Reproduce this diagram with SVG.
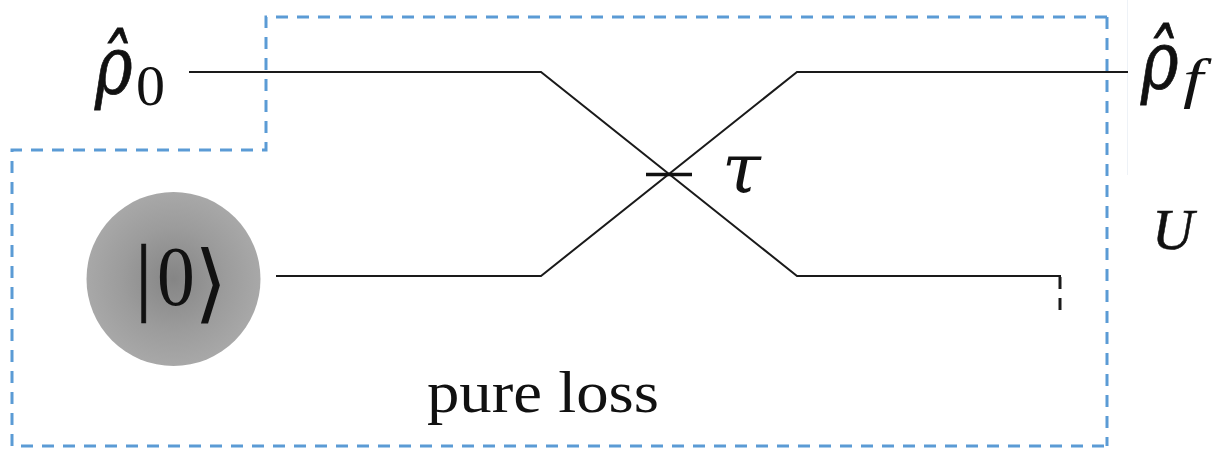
<svg xmlns="http://www.w3.org/2000/svg" width="1213" height="450" viewBox="0 0 1213 450">
<style>
text{font-family:"Liberation Serif","DejaVu Serif",serif;fill:#111}
.i{font-style:italic}
.r{font-family:"DejaVu Serif",serif;font-style:italic;stroke:#111;stroke-width:.8}
.w{fill:none;stroke:#1a1a1a;stroke-width:2}
.h{stroke:#111;stroke-width:.5}
</style>
<defs><radialGradient id="g"><stop offset="0" stop-color="#858585"/><stop offset="0.6" stop-color="#9c9c9c"/><stop offset="1" stop-color="#a8a8a8"/></radialGradient></defs>
<rect width="1213" height="450" fill="#fff"/>
<path d="M1127.500 0V175" fill="none" stroke="#eef2f7" stroke-width="1"/>
<g id="connectors">
<path class="w" d="M189 72H541L797 276H1060V289"/>
<path class="w" d="M276 276H541L797 72H1128"/>
<path d="M1060 298V310" fill="none" stroke="#1a1a1a" stroke-width="3"/>
<path d="M1060 277V289" fill="none" stroke="#1a1a1a" stroke-width="3"/>
<path d="M646 174.500H692" fill="none" stroke="#111" stroke-width="3.500"/>
</g>
<g id="boundary"><path d="M1107 17H266V150H12V446H1107M1107 17V446" fill="none" stroke="#5b9bd5" stroke-width="3" stroke-dasharray="12 9"/></g>
<g id="input-state">
<text class="r" transform="translate(95 93) scale(.8 1)" font-size="80">ρ̂</text>
<text x="136" y="105" font-size="58">0</text>
</g>
<g id="vacuum">
<circle cx="173.500" cy="279" r="87" fill="url(#g)"/>
<text x="135" y="304" font-size="87" class="h">|</text>
<text transform="translate(157 305) scale(.9 1)" font-size="84">0</text>
<text x="194" y="312" font-size="86" style="font-family:'DejaVu Sans',sans-serif">⟩</text>
</g>
<g id="output-state">
<text class="r" transform="translate(1141 88) scale(.8 1)" font-size="80">ρ̂</text>
<text class="i" transform="translate(1183 97) scale(1.35 1)" font-size="54">f</text>
</g>
<g id="tau"><text x="722" y="192" font-size="70" style="font-family:'DejaVu Serif',serif;font-style:italic">τ</text></g>
<g id="unitary"><text class="i h" x="1152" y="249" font-size="58">U</text></g>
<g id="loss"><text x="427" y="412" font-size="60" textLength="232" lengthAdjust="spacingAndGlyphs">pure loss</text></g>
</svg>
